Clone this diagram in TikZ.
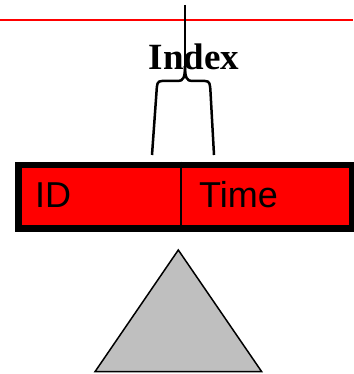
\documentclass[tikz,border=0pt]{standalone}
\usepackage{fontspec}
\setmainfont{Liberation Serif}
\setsansfont{Liberation Sans}

\begin{document}
\begin{tikzpicture}[x=1pt, y=-1pt, line join=round,
	every node/.style={inner sep=0pt},
	field/.style={font=\sffamily\fontsize{36}{40}\selectfont, anchor=base west}]
	\useasboundingbox (0,0) rectangle (353,374);
	\draw[red, line width=1.2pt] (0,20) -- (353,20);
	\node[font=\bfseries\fontsize{37}{40}\selectfont, anchor=base] (index) at (194,70) {Index};
	\node[draw, fill=red, line width=6.5pt, line join=miter, anchor=north west, minimum width=333.5pt, minimum height=63.3pt] (record) at (15,161.7) {};
	\draw[line width=2pt] (record.north -| 181,0) -- (record.south -| 181,0);
	\node[field] (id) at (35,207.3) {ID};
	\node[field] (time) at (199,207.3) {Time};
	\coordinate (stem) at (185,5);
	\coordinate (fork) at (185,66);
	\draw[line width=2.8pt] (stem) -- (fork);
	\draw[line width=2.5pt] (fork) .. controls (185,78) and (183,81) .. (178,81) -- (162,81)
		.. controls (157,81) and (157,84) .. (156.5,92) -- (152,155);
	\draw[line width=2.5pt] (fork) .. controls (185,78) and (187,81) .. (192,81) -- (205,81)
		.. controls (210,81) and (210,84) .. (210.5,92) -- (214,155);
	\draw[fill=gray!50, line width=1.5pt, line join=miter] (178.3,250) -- (261.7,371.7) -- (95,371.7) -- cycle;
\end{tikzpicture}
\end{document}
